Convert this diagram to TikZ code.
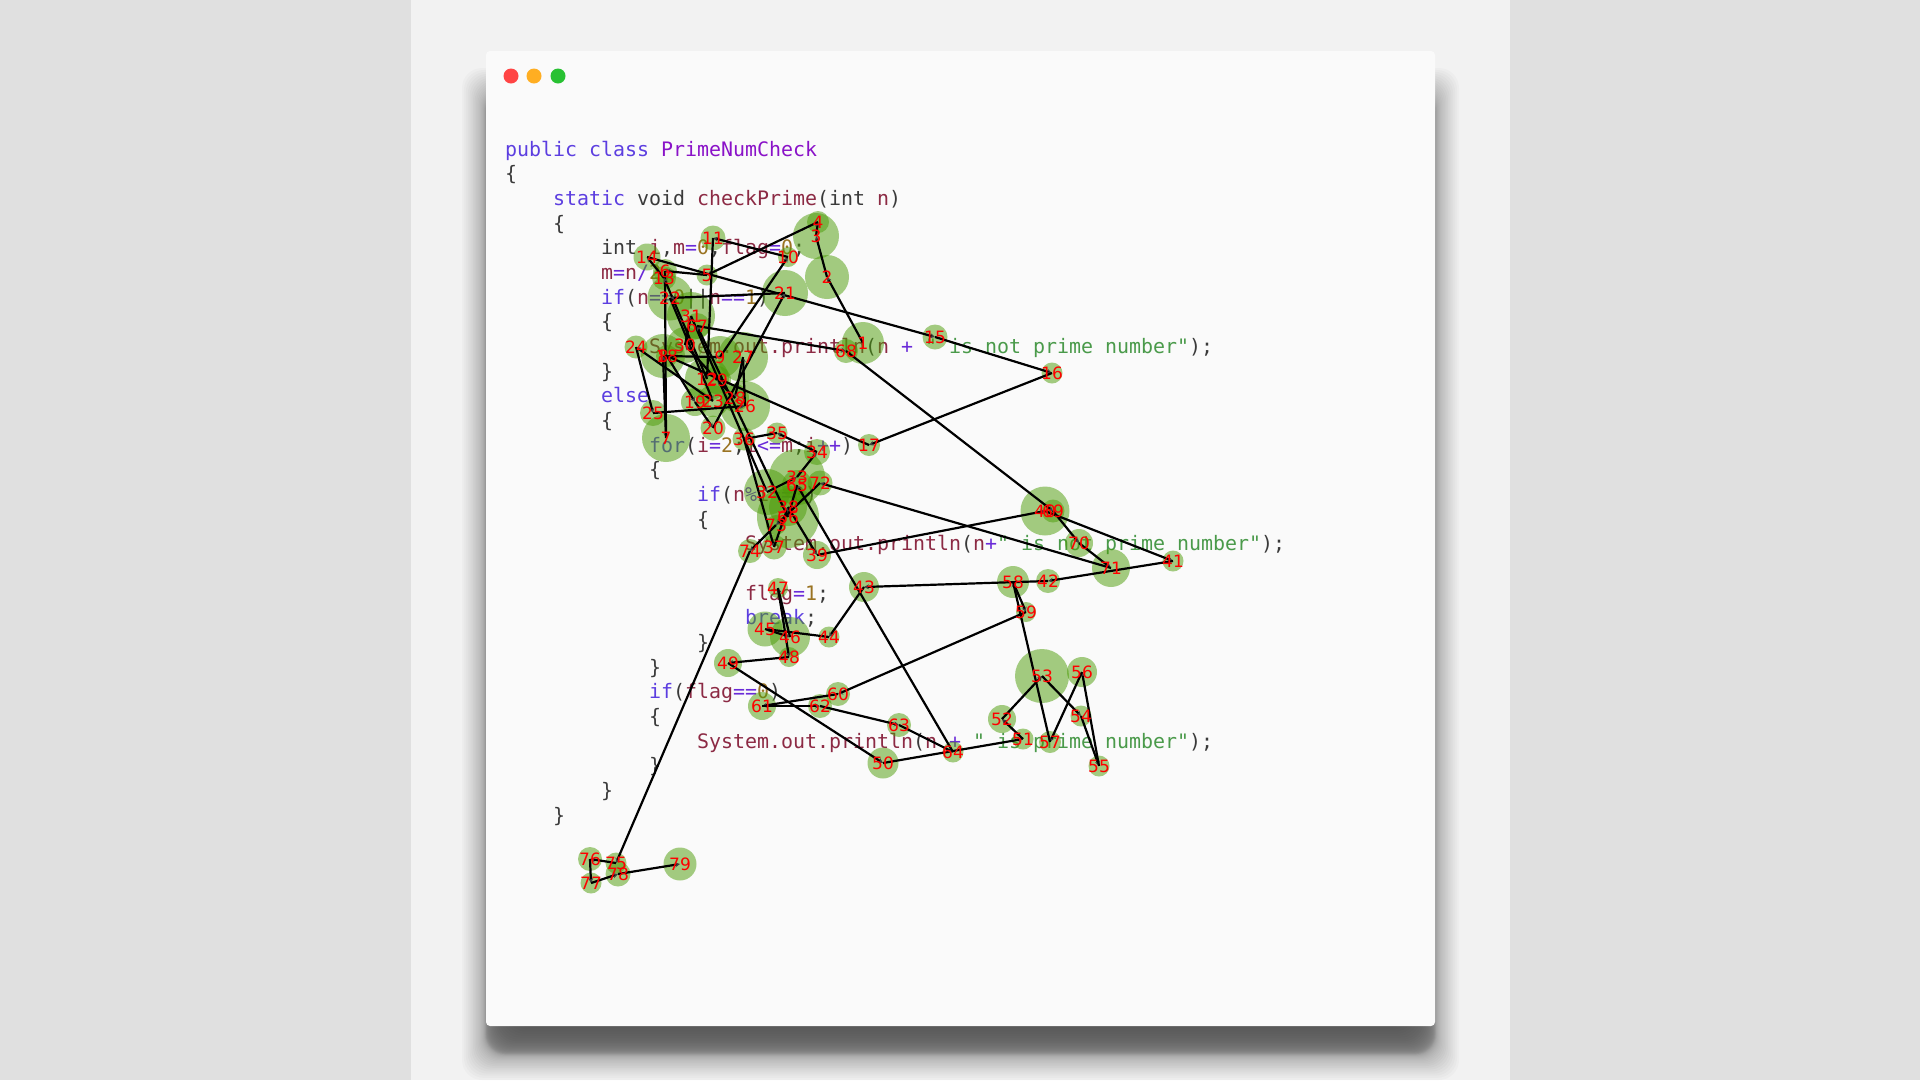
\documentclass[tikz,border=0pt]{standalone}
\usepackage{fontspec}
\setmonofont{DejaVu Sans Mono}
\newfontfamily\labelfont{DejaVu Sans}
\usetikzlibrary{arrows.meta}
\definecolor{side grey}{HTML}{E0E0E0}
\definecolor{band grey}{HTML}{F2F2F2}
\definecolor{window white}{HTML}{FAFAFA}
\definecolor{keyword}{HTML}{5C3EE0}
\definecolor{classname}{HTML}{8A12C8}
\definecolor{variable}{HTML}{8C2A44}
\definecolor{operator}{HTML}{6A2AD8}
\definecolor{number}{HTML}{9A7322}
\definecolor{string}{HTML}{4A9A4A}
\definecolor{plain}{HTML}{3A3A3A}
\definecolor{fixation green}{RGB}{76,156,6}
\newcommand{\kw}[1]{\textcolor{keyword}{#1}}
\newcommand{\vn}[1]{\textcolor{variable}{#1}}
\newcommand{\oper}[1]{\textcolor{operator}{#1}}
\newcommand{\nm}[1]{\textcolor{number}{#1}}
\newcommand{\strg}[1]{\textcolor{string}{#1}}
\tikzset{
    % One line of the listing, placed by its baseline
    code line/.style={
        anchor=base west, inner sep=0, text=plain,
        font=\ttfamily\fontsize{19.93}{24}\selectfont},
%
    % A fixation disc, the size is given where it is placed
    fixation/.style={
        circle, inner sep=0, fill=fixation green, fill opacity=.5},
%
    % The scan path between two fixations
    scan line/.style={
        line width=2.2pt, black, -{Stealth[length=5pt, width=5pt, black!75]}},
%
    % The number of a fixation
    fixation label/.style={
        inner sep=0, text=red, font=\labelfont\fontsize{17}{17}\selectfont}}

\begin{document}
\begin{tikzpicture}[x=1pt, y=-1pt]
\useasboundingbox (0,0) rectangle (1920,1080);

% Page behind the window
\fill[side grey] (0,0) rectangle (1920,1080);
\fill[band grey] (411,0) rectangle (1510,1080);

% Soft shadow built from stacked rectangles
\foreach \i [evaluate=\i as \d using {48*(\i/43+.12*sin(360*\i/43))}] in {0,...,43}
    \fill[black, fill opacity=.0195, rounded corners=20pt]
        (462+\d,68+\d) rectangle (1459-\d,1080-1.1*\d);

% The window and its three buttons
\fill[window white, rounded corners=4pt] (486,51) rectangle (1435,1026);
\node[circle, inner sep=0, minimum size=15pt, fill={rgb,255:red,255;green,68;blue,68}]
    (close button) at (511,76) {};
\node[circle, inner sep=0, minimum size=15pt, fill={rgb,255:red,255;green,174;blue,34}]
    (minimise button) at (534,76) {};
\node[circle, inner sep=0, minimum size=15pt, fill={rgb,255:red,40;green,193;blue,50}]
    (zoom button) at (558,76) {};

% The listing
\node[code line] (line 1) at (505,156) {\kw{public class} \textcolor{classname}{PrimeNumCheck}};
\node[code line] (line 2) at (505,180.7) {\{};
\node[code line] (line 3) at (553,205.3) {\kw{static} void \vn{checkPrime}(int \vn{n})};
\node[code line] (line 4) at (553,230) {\{};
\node[code line] (line 5) at (601,254.7) {int \vn{i},\vn{m}\oper{=}\nm{0},\vn{flag}\oper{=}\nm{0};};
\node[code line] (line 6) at (601,279.4) {\vn{m}\oper{=}\vn{n}\oper{/}\nm{2};};
\node[code line] (line 7) at (601,304) {\kw{if}(\vn{n}\oper{==}\nm{0}||\vn{n}\oper{==}\nm{1})};
\node[code line] (line 8) at (601,328.7) {\{};
\node[code line] (line 9) at (649,353.4) {\vn{System.out.println}(\vn{n} \oper{+} \strg{" is not prime number"});};
\node[code line] (line 10) at (601,378) {\}};
\node[code line] (line 11) at (601,402.7) {\kw{else}};
\node[code line] (line 12) at (601,427.4) {\{};
\node[code line] (line 13) at (649,452) {\kw{for}(\vn{i}\oper{=}\nm{2};\vn{i}\oper{<=}\vn{m};\vn{i}\oper{++})};
\node[code line] (line 14) at (649,476.7) {\{};
\node[code line] (line 15) at (697,501.4) {\kw{if}(\vn{n}\oper{\%}\vn{i}\oper{==}\nm{0})};
\node[code line] (line 16) at (697,526) {\{};
\node[code line] (line 17) at (745,550.7) {\vn{System.out.println}(\vn{n}\oper{+}\strg{" is not prime number"});};
\node[code line] (line 19) at (745,600) {\vn{flag}\oper{=}\nm{1};};
\node[code line] (line 20) at (745,624.8) {\kw{break};};
\node[code line] (line 21) at (697,649.4) {\}};
\node[code line] (line 22) at (649,674) {\}};
\node[code line] (line 23) at (649,698.8) {\kw{if}(\vn{flag}\oper{==}\nm{0})};
\node[code line] (line 24) at (649,723.4) {\{};
\node[code line] (line 25) at (697,748) {\vn{System.out.println}(\vn{n} \oper{+} \strg{" is prime number"});};
\node[code line] (line 26) at (649,772.8) {\}};
\node[code line] (line 27) at (601,797.4) {\}};
\node[code line] (line 28) at (553,822) {\}};

% The fixations: number / x / y / radius
\foreach \n/\x/\y/\r in {
    1/863/343/21, 2/827/277/22, 3/816/236/23, 4/818/222/11,
    5/707/275/10.5, 6/665/271/12, 7/666/438/24, 8/663/356/22,
    9/720/357/21, 10/788/257/10, 11/713/238/12.5, 12/707/379/22,
    13/664/278/12, 14/647/257/13.5, 15/935/337/12.5, 16/1052/373/10.5,
    17/869/445/11, 18/667/356/11, 19/695/402/14, 20/713/428/12.5,
    21/785/293/23, 22/670/298/22.5, 23/713/401/16, 24/636/347/11.5,
    25/653/413/13, 26/745/406/25, 27/743/357/25, 28/735/398/14,
    29/717/380/14, 30/685/345/18, 31/691/316/24, 32/767/492/23,
    33/797/477/28, 34/817/452/13, 35/777/433/10.5, 36/744/439/11.5,
    37/774/547/12.5, 38/788/507/19, 39/817/555/14, 40/1045/511/24.5,
    41/1173/561/10.5, 42/1048/581/12, 43/864/587/15, 44/829/637/10.5,
    45/765/629/17.5, 46/790/637/20, 47/778/588/10, 48/789/657/10,
    49/728/663/14, 50/883/763/15.5, 51/1023/739/10.5, 52/1002/719/14,
    53/1042/676/27, 54/1081/716/10.5, 55/1099/766/10.5, 56/1082/672/15,
    57/1050/742/11, 58/1013/582/16, 59/1026/612/10, 60/838/694/12,
    61/762/706/14, 62/820/706/12, 63/899/725/12, 64/953/752/10.5,
    65/797/485/15, 66/788/517/31, 67/697/326/13, 68/846/351/12,
    69/1053/511/11.5, 70/1079/543/14, 71/1111/568/19, 72/820/483/12.5,
    73/776/525/10, 74/750/551/12, 75/616/863/10.5, 76/590/859/12,
    77/591/883/10.5, 78/618/874/12.5, 79/680/864/16.5}
    \node[fixation, minimum size=2*\r pt] (fix \n) at (\x,\y) {};

% The scan path, one fixation to the next
\foreach \n [remember=\n as \last (initially 1)] in {2,...,79}
    \draw[scan line] (fix \last.center) -- (fix \n.center);

% Numbers go on top of everything
\foreach \n in {1,...,79}
    \node[fixation label] (number \n) at (fix \n) {\n};

\end{tikzpicture}
\end{document}
